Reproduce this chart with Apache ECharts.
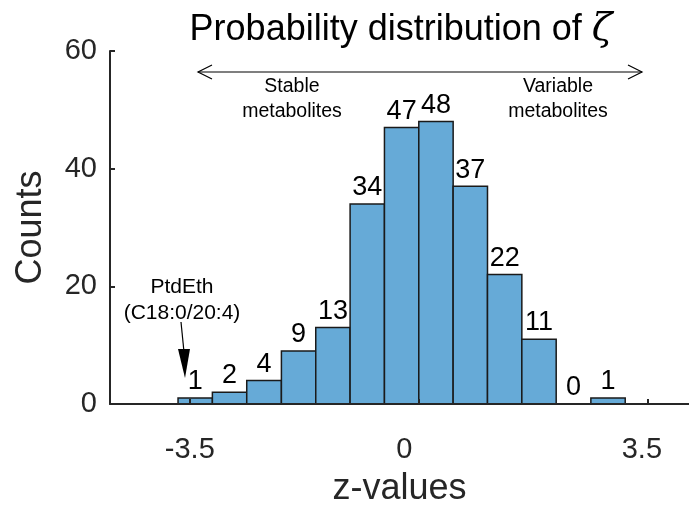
<!DOCTYPE html>
<html lang="en">
<head>
    <meta charset="UTF-8">
    <title>Probability distribution of zeta</title>
    <script src="https://cdn.jsdelivr.net/npm/echarts@6/dist/echarts.min.js"></script>
    <style>
        html, body { margin: 0; padding: 0; background: #fff; }
        #main { width: 689px; height: 512px; }
    </style>
</head>
<body>
<div id="main"></div>
<script>
    // histogram bins (z-value edges) and counts
    var binEdges = [-3.68, -3.155, -2.63, -2.10, -1.575, -1.05, -0.525, 0, 0.525, 1.05, 1.575, 2.10, 2.63, 3.155];
    var counts = [1, 2, 4, 9, 13, 34, 47, 48, 37, 22, 11, 0, 1];
    var xTicks = [-3.5, 0, 3.5];
    var xTickLabels = ['-3.5', '0', '3.5'];
    var xLabelPos = [-3.5, -0.22, 3.41];  // labels sit a bit left of their ticks in the figure
    var yTicks = [0, 20, 40, 60];

    var bins = [];
    for (var i = 0; i < counts.length; i++) {
        bins.push([binEdges[i], binEdges[i + 1], counts[i]]);
    }

    var font = '"Liberation Sans", Arial, sans-serif';
    var axisColor = '#262626';

    var chart = echarts.init(document.getElementById('main'));
    var option = {
        animation: false,
        grid: {left: 110, right: 0, top: 51, bottom: 101},
        xAxis: {
            type: 'value',
            z: 5,
            min: -4.72,
            max: 4.13,
            name: 'z-values',
            nameLocation: 'middle',
            nameGap: 67,
            nameTextStyle: {fontSize: 36, color: axisColor, fontFamily: font},
            axisLine: {show: true, lineStyle: {color: axisColor, width: 2}},
            axisTick: {show: true, inside: true, length: 5, customValues: xTicks,
                lineStyle: {color: axisColor, width: 2}},
            axisLabel: {
                customValues: xLabelPos, margin: 31, fontSize: 29, color: axisColor, fontFamily: font,
                formatter: function (v) {
                    return xTickLabels[xLabelPos.indexOf(v)];
                }
            },
            splitLine: {show: false}
        },
        yAxis: {
            type: 'value',
            z: 5,
            min: 0,
            max: 60,
            interval: 20,
            name: 'Counts',
            nameLocation: 'middle',
            nameGap: 61,
            nameTextStyle: {fontSize: 36, color: axisColor, fontFamily: font},
            axisLine: {show: true, onZero: false, lineStyle: {color: axisColor, width: 2}},
            axisTick: {show: true, inside: true, length: 5, lineStyle: {color: axisColor, width: 2}},
            axisLabel: {margin: 13, fontSize: 29, color: axisColor, fontFamily: font},
            splitLine: {show: false}
        },
        series: [{
            type: 'custom',
            data: bins,
            encode: {x: [0, 1], y: 2},
            z: 1,
            renderItem: function (params, api) {
                var p0 = api.coord([api.value(0), api.value(2)]);
                var p1 = api.coord([api.value(1), 0]);
                return {
                    type: 'rect',
                    shape: {x: p0[0], y: p0[1], width: p1[0] - p0[0], height: p1[1] - p0[1]},
                    style: {fill: '#66aad7', stroke: '#1a1a1a', lineWidth: 1.5},
                    textContent: {
                        style: {text: String(api.value(2)), fontSize: 27, fill: '#000', fontFamily: font}
                    },
                    textConfig: {position: 'top', distance: 2}
                };
            }
        }],
        graphic: [
            {
                type: 'text', x: 401, y: 30,
                style: {
                    text: 'Probability distribution of {z|ζ}',
                    font: '36px ' + font, fill: '#000', align: 'center', verticalAlign: 'middle',
                    rich: {z: {fontSize: 38, fontFamily: '"DejaVu Serif", serif', fontStyle: 'italic', fill: '#000'}}
                }
            },
            // double-headed arrow
            {
                type: 'line', shape: {x1: 198, y1: 72, x2: 642, y2: 72},
                style: {stroke: '#000', lineWidth: 1.2}
            },
            {
                type: 'polyline', shape: {points: [[212, 65], [198, 72], [212, 79]]},
                style: {stroke: '#000', lineWidth: 1.2, fill: null}
            },
            {
                type: 'polyline', shape: {points: [[628, 65], [642, 72], [628, 79]]},
                style: {stroke: '#000', lineWidth: 1.2, fill: null}
            },
            {
                type: 'text', x: 292, y: 99,
                style: {text: 'Stable\nmetabolites', font: '19.5px ' + font, fill: '#000',
                    align: 'center', verticalAlign: 'middle', lineHeight: 25}
            },
            {
                type: 'text', x: 558, y: 99,
                style: {text: 'Variable\nmetabolites', font: '19.5px ' + font, fill: '#000',
                    align: 'center', verticalAlign: 'middle', lineHeight: 25}
            },
            // PtdEth annotation
            {
                type: 'text', x: 182, y: 300,
                style: {text: 'PtdEth\n(C18:0/20:4)', font: '21px ' + font, fill: '#000',
                    align: 'center', verticalAlign: 'middle', lineHeight: 26}
            },
            {
                type: 'line', shape: {x1: 181, y1: 322, x2: 184, y2: 352},
                style: {stroke: '#000', lineWidth: 1.2}
            },
            {
                type: 'polygon', shape: {points: [[178, 349], [190, 349], [185, 378]]},
                style: {fill: '#000'}
            }
        ]
    };
    chart.setOption(option);
</script>
</body>
</html>
